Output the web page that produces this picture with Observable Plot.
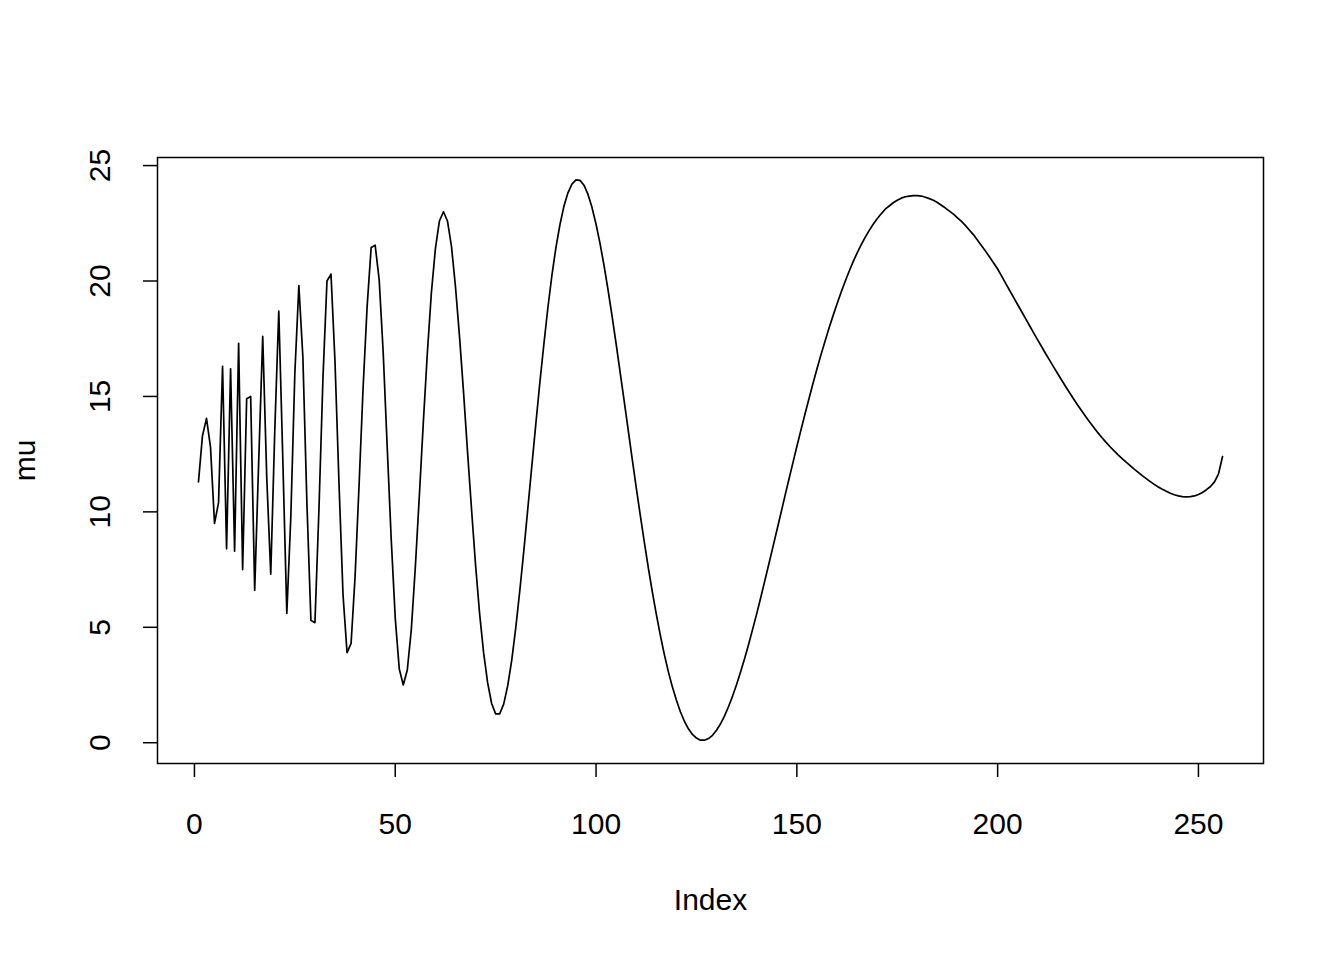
<!DOCTYPE html>
<html>
<head>
<meta charset="utf-8">
<script src="https://cdn.jsdelivr.net/npm/d3@7"></script>
<script src="https://cdn.jsdelivr.net/npm/@observablehq/plot@0.6"></script>
<style>
  html, body { margin: 0; padding: 0; background: #ffffff; }
  svg { display: block; }
</style>
</head>
<body>
<div id="chart"></div>
<script>
// Series values (mu at Index 1..256)
const mu = [
  11.3,13.3,14.05,12.8,9.5,10.4,16.3,8.4,16.2,8.3,17.3,7.5,14.9,15.0,6.6,12.2,
  17.6,11.5,7.3,13.5,18.7,12.3,5.6,9.8,16.0,19.8,16.7,10.4,5.3,5.2,10.1,15.8,
  20.0,20.3,16.5,11.2,6.4,3.9,4.3,7.2,11.2,15.4,18.9,21.45,21.55,20.05,16.9,12.8,
  8.8,5.4,3.2,2.5,3.15,4.9,7.6,10.7,13.9,16.9,19.5,21.4,22.6,23.0,22.6,21.5,
  19.75,17.6,15.2,12.6,10.1,7.7,5.6,3.9,2.6,1.7,1.25,1.25,1.67,2.46,3.57,4.96,
  6.56,8.29,10.12,11.97,13.8,15.59,17.25,18.83,20.23,21.44,22.43,23.24,23.82,24.2,24.38,24.36,
  24.15,23.75,23.18,22.46,21.62,20.66,19.6,18.47,17.28,16.04,14.81,13.55,12.3,11.06,9.87,8.71,
  7.6,6.55,5.57,4.66,3.83,3.08,2.42,1.85,1.34,0.93,0.6,0.36,0.2,0.11,0.11,0.18,
  0.32,0.54,0.82,1.16,1.57,2.02,2.52,3.07,3.65,4.27,4.92,5.58,6.28,7.0,7.72,8.45,
  9.18,9.92,10.66,11.39,12.11,12.83,13.53,14.22,14.89,15.55,16.19,16.8,17.38,17.95,18.49,19.0,
  19.5,19.97,20.41,20.83,21.21,21.56,21.89,22.18,22.46,22.7,22.91,23.11,23.25,23.39,23.5,23.59,
  23.65,23.68,23.7,23.7,23.68,23.63,23.57,23.5,23.4,23.28,23.16,23.03,22.9,22.74,22.58,22.4,
  22.2,22.0,21.77,21.53,21.29,21.04,20.78,20.52,20.21,19.9,19.59,19.28,18.97,18.67,18.36,18.05,
  17.74,17.44,17.14,16.84,16.55,16.26,15.97,15.69,15.41,15.14,14.87,14.61,14.36,14.11,13.87,13.64,
  13.42,13.21,13.01,12.82,12.64,12.47,12.31,12.15,12.0,11.85,11.71,11.57,11.44,11.31,11.19,11.08,
  10.98,10.89,10.81,10.74,10.69,10.66,10.65,10.66,10.69,10.75,10.84,10.96,11.1,11.3,11.65,12.4
];
const index = mu.map((_, i) => i + 1);

// Tick labels
const xTicks = [0, 50, 100, 150, 200, 250];
const yTicks = [0, 5, 10, 15, 20, 25];

// Axis titles
const xTitle = "Index";
const yTitle = "mu";

const data = index.map((x, i) => ({index: x, mu: mu[i]}));

const font = "'Liberation Sans', Arial, Helvetica, sans-serif";

const chart = Plot.plot({
  width: 1344,
  height: 960,
  marginLeft: 157,
  marginRight: 81,
  marginTop: 157,
  marginBottom: 197,
  style: {fontFamily: font, background: "#ffffff", color: "#000000"},
  x: {domain: [-9.2, 266.2]},
  y: {domain: [-0.9, 25.35]},
  marks: [
    Plot.frame({stroke: "#000000", strokeWidth: 1.5}),
    Plot.lineY(data, {x: "index", y: "mu", stroke: "#000000", strokeWidth: 1.7}),
    Plot.axisX({
      ticks: xTicks, tickSize: 14, tickPadding: 35, fontSize: 30,
      stroke: "#000000", strokeWidth: 1.5, label: null, tickFormat: d => String(d)
    }),
    // y tick marks (horizontal, outward)
    Plot.axisY({
      ticks: yTicks, tickSize: 14, fontSize: 30,
      stroke: "#000000", strokeWidth: 1.5, label: null, tickFormat: () => ""
    }),
    // y tick labels, rotated like R's las = 0
    Plot.axisY({
      ticks: yTicks, tickSize: 0, tickPadding: 57, fontSize: 30,
      strokeOpacity: 0, label: null,
      rotate: -90, textAnchor: "middle", lineAnchor: "middle", tickFormat: d => String(d)
    }),
    Plot.text([xTitle], {frameAnchor: "bottom", dy: 137, fontSize: 30, fill: "#000000", textAnchor: "middle", lineAnchor: "middle"}),
    Plot.text([yTitle], {frameAnchor: "left", dx: -132, rotate: -90, fontSize: 30, fill: "#000000", textAnchor: "middle", lineAnchor: "middle"})
  ]
});

document.getElementById("chart").appendChild(chart);
</script>
</body>
</html>
